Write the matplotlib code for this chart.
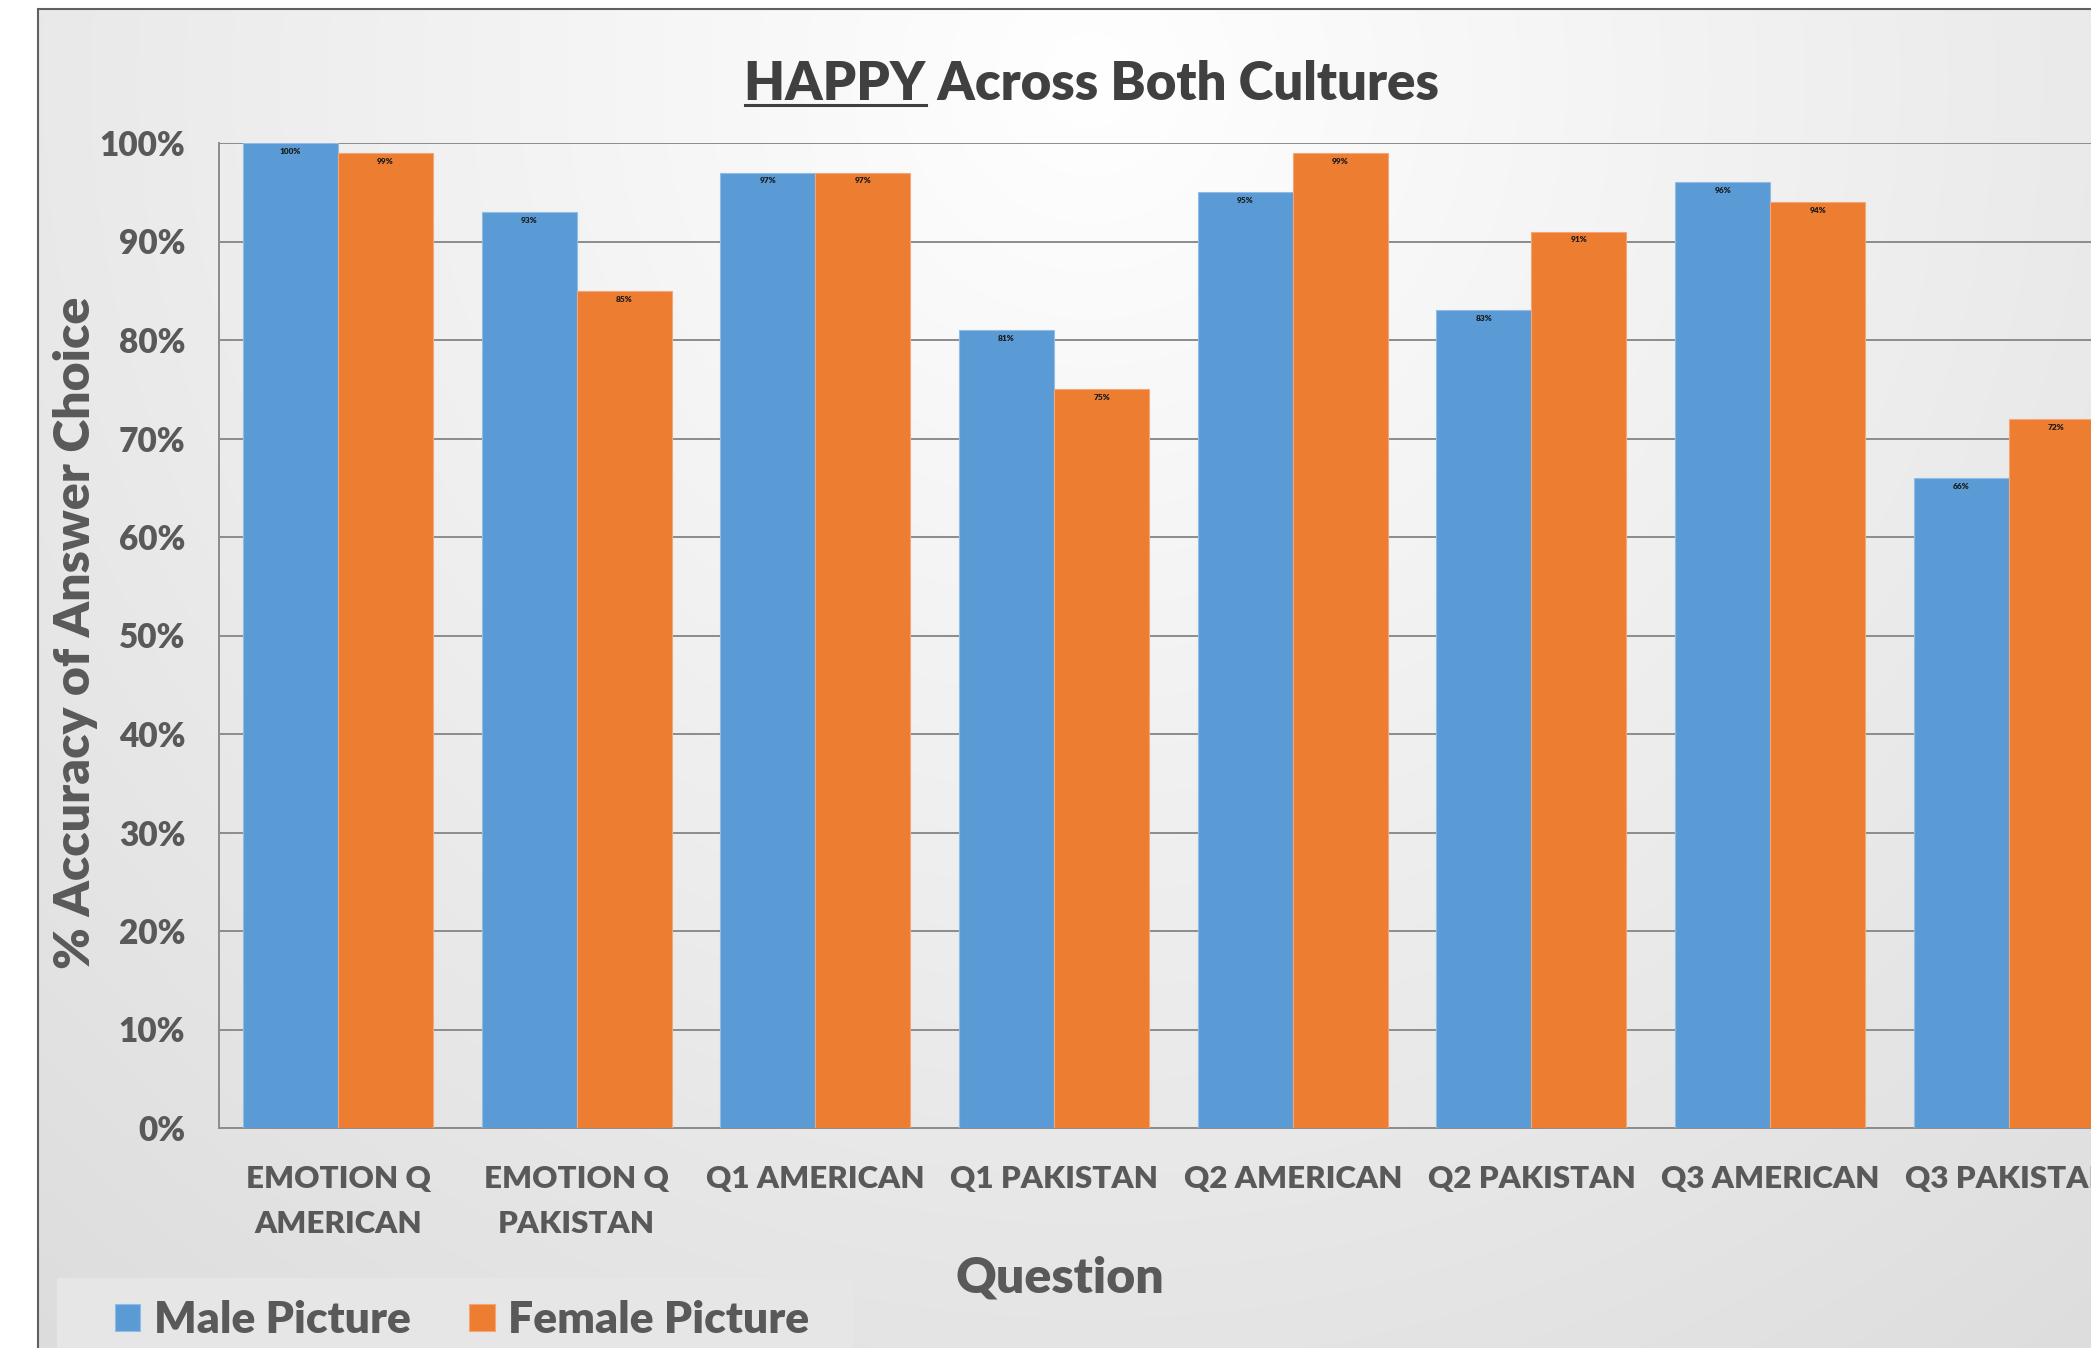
#!/usr/bin/env python3
"""HAPPY across both cultures: grouped bar chart of answer accuracy."""

import matplotlib.pyplot as plt
import numpy as np
from matplotlib.patches import Rectangle
from matplotlib.lines import Line2D

plt.rcParams["font.family"] = ["Lato", "DejaVu Sans"]
WEIGHT = "heavy"

categories = ["EMOTION Q\nAMERICAN", "EMOTION Q\nPAKISTAN", "Q1 AMERICAN", "Q1 PAKISTAN",
              "Q2 AMERICAN", "Q2 PAKISTAN", "Q3 AMERICAN", "Q3 PAKISTAN"]
male = [100, 93, 97, 81, 95, 83, 96, 66]
female = [99, 85, 97, 75, 99, 91, 94, 72]
yticks = list(range(0, 101, 10))

BLUE = "#5B9BD5"
ORANGE = "#ED7D31"
TEXT = "#595959"

W, H = 2091, 1348
fig = plt.figure(figsize=(W / 100, H / 100), dpi=100)
fig.patch.set_facecolor("white")

# chart area background: soft radial gradient inside a grey frame
fx0, fy_top = 38, 9
bg = fig.add_axes([fx0 / W, 0, 1 - fx0 / W, 1 - fy_top / H], zorder=0)
yy, xx = np.mgrid[0:H - fy_top, 0:W - fx0]
d = np.hypot(xx - (1090 - fx0), yy - (80 - fy_top))
val = np.clip(255 - 0.021 * d, 200, 255) / 255.0
bg.imshow(np.dstack([val, val, val]), aspect="auto", interpolation="bilinear")
bg.set_axis_off()
fig.add_artist(Rectangle((fx0 / W, -0.01), 1.1, 1 - fy_top / H + 0.01, transform=fig.transFigure,
                         fill=False, edgecolor="#606060", linewidth=1.5, zorder=1))

# main axes, unit width per category = 238.7 px
left_px, unit_px = 218.6, 238.7
top_px, zero_px = 143, 1128
ax = fig.add_axes([left_px / W, 1 - zero_px / H, 8 * unit_px / W, (zero_px - top_px) / H], zorder=2)
ax.patch.set_alpha(0)

x = np.arange(len(categories))
bw = 0.398
b1 = ax.bar(x - bw / 2, male, bw, color=BLUE, edgecolor="#8fbde6", linewidth=0.8, label="Male Picture", zorder=3)
b2 = ax.bar(x + bw / 2, female, bw, color=ORANGE, edgecolor="#f3a676", linewidth=0.8, label="Female Picture", zorder=3)

for bars, vals in ((b1, male), (b2, female)):
    for rect, v in zip(bars, vals):
        ax.annotate(f"{v}%", (rect.get_x() + rect.get_width() / 2, rect.get_height()),
                    xytext=(0, -6), textcoords="offset points", ha="center", va="center",
                    fontsize=6, fontweight=WEIGHT, color="#1a1a1a", zorder=4)

ax.set_xlim(-0.5, 7.5)
ax.set_ylim(0, 100)
ax.set_yticks(yticks)
ax.set_yticklabels([f"{t}%" for t in yticks])
ax.set_xticks(x)
ax.set_xticklabels(categories, linespacing=1.72)
ax.yaxis.grid(True, color="#8c8c8c", linewidth=1.4, zorder=1)
ax.set_axisbelow(True)
ax.tick_params(axis="y", length=0, pad=24, labelsize=24, labelcolor=TEXT)
ax.tick_params(axis="x", length=0, pad=27, labelsize=22.5, labelcolor=TEXT)
for lab in ax.get_xticklabels() + ax.get_yticklabels():
    lab.set_fontweight(WEIGHT)
for s in ("top", "right"):
    ax.spines[s].set_visible(False)
for s in ("left", "bottom"):
    ax.spines[s].set_color("#8c8c8c")
    ax.spines[s].set_linewidth(1.4)

# axis titles
fig.text(76 / W, 1 - 633 / H, "% Accuracy of Answer Choice", rotation=90, ha="center", va="center",
         fontsize=36, fontweight=WEIGHT, color=TEXT)
fig.text(1060 / W, 1 - 1278 / H, "Question", ha="center", va="center",
         fontsize=36, fontweight=WEIGHT, color=TEXT)

# title with underlined first word
title_kw = dict(fontsize=38, fontweight=WEIGHT, color="#404040")
t = fig.text(1092 / W, 1 - 85 / H, "HAPPY Across Both Cultures", ha="center", va="center", **title_kw)
fig.canvas.draw()
r = fig.canvas.get_renderer()
tb = t.get_window_extent(r)
probe = fig.text(0, 0, "HAPPY", **title_kw)
hw = probe.get_window_extent(r).width
probe.remove()
uy = tb.y0 + 0.1 * tb.height
fig.add_artist(Line2D([tb.x0 / W, (tb.x0 + hw) / W], [uy / H, uy / H], transform=fig.transFigure,
                      color="#404040", linewidth=2.2))

# legend in a light box at the bottom left
fig.add_artist(Rectangle((57 / W, -0.01), (853 - 57) / W, 0.01 + (H - 1278) / H, transform=fig.transFigure,
                         facecolor="#e6e6e6", edgecolor="none", zorder=1))
leg = fig.legend(handles=[b1, b2], loc="center left", bbox_to_anchor=(115 / W, 1 - 1320 / H), ncol=2,
                 prop=dict(size=32, weight=WEIGHT), frameon=False, handlelength=0.57, handleheight=0.57,
                 handletextpad=0.3, columnspacing=1.32, borderpad=0, borderaxespad=0)
for txt in leg.get_texts():
    txt.set_color(TEXT)

fig.savefig("out.png", dpi=100)
